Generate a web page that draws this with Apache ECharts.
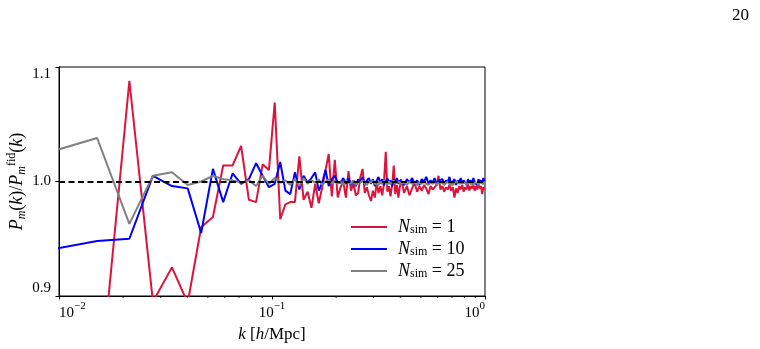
<!DOCTYPE html>
<html>
<head>
<meta charset="utf-8">
<script src="https://cdn.jsdelivr.net/npm/echarts@6/dist/echarts.min.js"></script>
<style>
  html, body { margin: 0; padding: 0; background: #fff; }
  #chart { width: 760px; height: 349px; }
</style>
</head>
<body>
<div id="chart"></div>
<script>
// k bins [h/Mpc]
const kVals = [
  0.0088, 0.0151, 0.0214, 0.0276, 0.0339, 0.0402, 0.0465, 0.0528, 0.0590, 0.0653,
  0.0716, 0.0779, 0.0842, 0.0904, 0.0967, 0.1030, 0.1093, 0.1156, 0.1218, 0.1281,
  0.1344, 0.1407, 0.1470, 0.1532, 0.1595, 0.1658, 0.1721, 0.1784, 0.1846, 0.1909,
  0.1972, 0.2035, 0.2098, 0.2160, 0.2223, 0.2286, 0.2349, 0.2412, 0.2474, 0.2537,
  0.2600, 0.2663, 0.2726, 0.2788, 0.2851, 0.2914, 0.2977, 0.3040, 0.3102, 0.3165,
  0.323, 0.329, 0.335, 0.342, 0.348, 0.354, 0.360, 0.367, 0.373, 0.379,
  0.386, 0.392, 0.398,
  0.404, 0.417, 0.430, 0.442, 0.455, 0.467, 0.480, 0.492, 0.505, 0.518,
  0.530, 0.543, 0.555, 0.568, 0.580, 0.593, 0.605, 0.618, 0.631, 0.643,
  0.656, 0.668, 0.681, 0.693, 0.706, 0.719, 0.731, 0.744, 0.756, 0.769,
  0.782, 0.794, 0.807, 0.819, 0.832, 0.844, 0.857, 0.870, 0.882, 0.895,
  0.907, 0.920, 0.932, 0.945, 0.958, 0.970, 0.983, 0.995
];

// P_m(k)/P_m^fid(k), N_sim = 1
const ratio1 = [
  0.860, 0.796, 1.088, 0.895, 0.925, 0.894, 0.960, 0.969, 1.014, 1.014,
  1.031, 0.984, 0.982, 1.015, 1.010, 1.069, 0.967, 0.980, 0.982, 0.982,
  1.022, 0.984, 0.991, 0.977, 0.998, 0.981, 0.995, 1.010, 1.024, 0.987,
  1.019, 0.986, 0.995, 1.000, 0.986, 1.009, 0.992, 0.998, 0.988, 0.990,
  1.004, 1.011, 0.990, 0.995, 0.988, 0.983, 0.992, 0.986, 0.999, 0.990,
  0.996, 0.988, 0.997, 1.026, 0.991, 0.996, 0.987, 0.998, 1.014, 0.989,
  0.997, 0.986, 0.995,
  1.002, 0.990, 0.996, 0.988, 0.994, 0.999, 0.991, 0.996, 0.992, 0.997,
  0.994, 0.989, 0.996, 0.993, 0.994, 0.997, 1.005, 0.993, 0.996, 0.991,
  0.995, 0.993, 0.997, 0.992, 0.995, 0.986, 0.994, 0.990, 0.996, 0.993,
  0.997, 0.991, 0.995, 0.993, 0.998, 0.992, 0.996, 0.994, 0.997, 0.992,
  0.996, 0.993, 0.997, 0.994, 0.996, 0.989, 0.995, 0.993
];

// N_sim = 10
const ratio10 = [
  0.940, 0.948, 0.950, 1.005, 0.996, 0.994, 0.955, 1.011, 0.982, 1.007,
  0.998, 1.002, 1.016, 1.005, 0.995, 0.998, 1.017, 0.992, 0.989, 1.008,
  0.993, 1.005, 0.999, 1.003, 1.008, 0.992, 0.999, 1.010, 0.996, 1.002,
  1.005, 0.999, 0.999, 1.003, 0.998, 1.003, 0.997, 1.001, 0.996, 1.002,
  0.999, 1.004, 0.997, 1.001, 1.003, 0.998, 1.002, 0.996, 1.001, 1.004,
  0.998, 1.002, 0.997, 1.000, 1.003, 0.998, 1.001, 0.996, 1.002, 0.999,
  1.003, 0.998, 1.001,
  1.000, 0.997, 1.002, 0.999, 1.003, 0.998, 1.001, 0.997, 1.002, 1.000,
  1.004, 0.998, 1.001, 0.999, 1.003, 0.997, 1.001, 1.000, 1.002, 0.998,
  1.001, 0.999, 1.004, 0.998, 1.000, 1.002, 0.997, 1.001, 0.999, 1.003,
  0.998, 1.001, 1.000, 0.997, 1.002, 0.999, 1.001, 0.998, 1.003, 0.999,
  1.000, 0.997, 1.002, 0.999, 1.001, 0.998, 1.003, 1.000
];

// N_sim = 25
const ratio25 = [
  1.025, 1.038, 0.963, 1.005, 1.008, 0.997, 1.000, 1.005, 1.002, 1.001,
  0.999, 1.001, 0.996, 1.005, 0.998, 1.003, 0.999, 1.001, 0.997, 1.002,
  0.996, 1.003, 0.998, 1.001, 0.999, 1.002, 0.997, 1.000, 1.002, 0.998,
  1.001, 0.998, 1.000, 0.997, 1.001, 0.999, 0.998, 1.001, 0.997, 1.000,
  0.999, 1.001, 0.998, 0.997, 1.000, 0.999, 1.001, 0.998, 0.999, 0.997,
  1.000, 0.998, 1.001, 0.999, 0.997, 1.000, 0.998, 0.999, 1.001, 0.998,
  0.997, 1.000, 0.999,
  0.998, 0.999, 0.997, 1.000, 0.998, 0.999, 0.997, 0.999, 0.998, 1.000,
  0.998, 0.997, 0.999, 0.998, 1.000, 0.997, 0.999, 0.998, 0.999, 0.997,
  0.998, 1.000, 0.998, 0.999, 0.997, 0.999, 0.998, 1.000, 0.998, 0.997,
  0.999, 0.998, 0.999, 0.997, 0.998, 1.000, 0.998, 0.999, 0.997, 0.999,
  0.998, 0.999, 0.997, 0.998, 1.000, 0.998, 0.999, 0.998
];

const nSim = [1, 10, 25];
const colors = ['#dc143c', '#0000ff', '#808080'];
const minorTicks = [0.02, 0.03, 0.04, 0.05, 0.06, 0.07, 0.08, 0.09,
                    0.2, 0.3, 0.4, 0.5, 0.6, 0.7, 0.8, 0.9];

const serif = 'Liberation Serif';
const chart = echarts.init(document.getElementById('chart'));

const pairs = (vals) => kVals.map((k, i) => [k, vals[i]]);

const series = [ratio1, ratio10, ratio25].map((vals, i) => ({
  name: 'N_sim = ' + nSim[i],
  type: 'line',
  data: pairs(vals),
  showSymbol: false,
  symbol: 'none',
  clip: true,
  lineStyle: { color: colors[i], width: 2 },
  itemStyle: { color: colors[i] },
  z: 2 + i
}));

series[2].markLine = {
  silent: true,
  symbol: ['none', 'none'],
  label: { show: false },
  lineStyle: { color: '#000', type: [6, 3.5], width: 1.8 },
  data: [{ yAxis: 1 }],
  z: 10
};

const option = {
  animation: false,
  title: {
    text: '20',
    right: 6,
    top: 2,
    textStyle: { fontFamily: serif, fontSize: 17, fontWeight: 'normal', color: '#000' }
  },
  grid: {
    left: 59, right: 275, top: 67, bottom: 53,
    containLabel: false,
    outerBoundsMode: 'none',
    show: true, borderColor: '#000', borderWidth: 1, backgroundColor: 'transparent'
  },
  legend: {
    orient: 'vertical',
    left: 346,
    top: 213,
    itemWidth: 36,
    itemHeight: 2,
    itemGap: 4,
    icon: 'rect',
    data: series.map(s => s.name),
    formatter: (name) => '{i|N}{sub|sim}{r| = ' + name.split('= ')[1] + '}',
    textStyle: {
      color: '#000',
      padding: [0, 0, 0, 6],
      rich: {
        i: { fontFamily: serif, fontStyle: 'italic', fontSize: 18, lineHeight: 18, verticalAlign: 'middle' },
        sub: { fontFamily: serif, fontSize: 12, lineHeight: 12, verticalAlign: 'bottom' },
        r: { fontFamily: serif, fontSize: 18, lineHeight: 18, verticalAlign: 'middle' }
      }
    }
  },
  xAxis: {
    type: 'log',
    logBase: 10,
    min: 0.01,
    max: 1,
    name: '{i|k} [{i|h}/Mpc]',
    nameLocation: 'middle',
    nameGap: 27,
    nameTextStyle: {
      color: '#000', fontFamily: serif, fontSize: 17,
      rich: { i: { fontFamily: serif, fontStyle: 'italic', fontSize: 17 } }
    },
    axisLine: { lineStyle: { color: '#000', width: 1 } },
    axisTick: { show: true, length: 3.5, inside: false, lineStyle: { color: '#000' } },
    splitLine: { show: false },
    axisLabel: {
      margin: 5,
      color: '#000',
      alignMinLabel: 'left',
      alignMaxLabel: 'right',
      formatter: (v) => '{b|10}{sup|' + Math.round(Math.log10(v)).toString().replace('-', '\u2212') + '}',
      rich: {
        b: { fontFamily: serif, fontSize: 15, lineHeight: 20, verticalAlign: 'bottom' },
        sup: { fontFamily: serif, fontSize: 11, lineHeight: 20, verticalAlign: 'top' }
      }
    }
  },
  yAxis: {
    type: 'value',
    min: 0.9,
    max: 1.1,
    interval: 0.1,
    name: '{i|P}{sub|m}{n|(}{i|k}{n|)/}{i|P}{sub|m}{sup|fid}{n|(}{i|k}{n|)}',
    nameLocation: 'middle',
    nameGap: 31,
    nameMoveOverlap: false,
    nameRotate: 90,
    nameTextStyle: {
      color: '#000', fontFamily: serif, fontSize: 18,
      rich: {
        i: { fontFamily: serif, fontStyle: 'italic', fontSize: 18, lineHeight: 22, verticalAlign: 'middle' },
        n: { fontFamily: serif, fontSize: 18, lineHeight: 22, verticalAlign: 'middle' },
        sub: { fontFamily: serif, fontStyle: 'italic', fontSize: 12, lineHeight: 22, verticalAlign: 'bottom' },
        sup: { fontFamily: serif, fontSize: 12, lineHeight: 22, verticalAlign: 'top' }
      }
    },
    axisLine: { show: true, lineStyle: { color: '#000', width: 1 } },
    axisTick: { show: true, length: 3.5, lineStyle: { color: '#000' } },
    splitLine: { show: false },
    axisLabel: {
      margin: 8,
      color: '#000',
      fontFamily: serif,
      fontSize: 15,
      verticalAlignMinLabel: 'bottom',
      verticalAlignMaxLabel: 'top',
      formatter: (v) => v.toFixed(1)
    }
  },
  series: series
};

chart.setOption(option);

// minor ticks on the log axis, placed through the axis scale
const gridBottom = chart.convertToPixel({ yAxisIndex: 0 }, 0.9);
chart.setOption({
  graphic: minorTicks.map(v => {
    const x = chart.convertToPixel({ xAxisIndex: 0 }, v);
    return {
      type: 'line',
      shape: { x1: x, y1: gridBottom, x2: x, y2: gridBottom + 2 },
      style: { stroke: '#000', lineWidth: 0.8 },
      silent: true
    };
  })
});
</script>
</body>
</html>
